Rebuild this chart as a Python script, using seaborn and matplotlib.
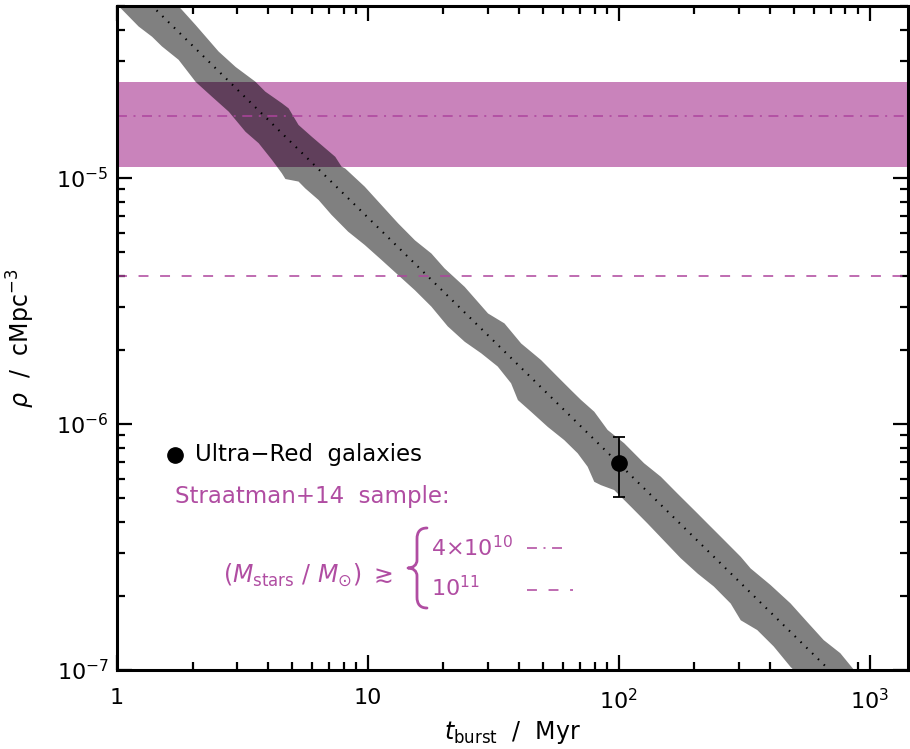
import numpy as np
import pandas as pd
import matplotlib
matplotlib.use("Agg")
import matplotlib.pyplot as plt
import matplotlib.ticker as mticker
from matplotlib.path import Path
from matplotlib.patches import PathPatch
import seaborn as sns

# Number density of burst descendants: rho = rho_norm / t_burst  [cMpc^-3, t in Myr]
rho_norm = 6.9e-5
t_model = [0.8, 2000.0]

# Scatter envelope around the relation (offsets in dex at the given t_burst)
upper_t = [0.8, 1.3, 1.79, 2.06, 2.54, 2.97, 3.56, 3.90, 4.54, 4.83, 5.29, 5.98,
           7.41, 7.85, 8.12, 9.71, 11.3, 13.2, 15.4, 17.9, 20.2, 24.3, 30.1, 35.0,
           40.8, 44.7, 49.0, 57.1, 64.4, 70.6, 79.8, 90.2, 105, 126, 147, 171,
           206, 225, 254, 306, 335, 402, 483, 563, 655, 763, 862, 1000]
upper_dex = [0.10, 0.10, 0.104, 0.096, 0.080, 0.085, 0.104, 0.103, 0.122, 0.128, 0.100, 0.105,
             0.117, 0.102, 0.109, 0.113, 0.105, 0.097, 0.095, 0.107, 0.099, 0.104, 0.089, 0.114,
             0.099, 0.105, 0.111, 0.109, 0.108, 0.108, 0.113, 0.092, 0.104, 0.102, 0.114, 0.112,
             0.111, 0.110, 0.109, 0.107, 0.099, 0.111, 0.116, 0.107, 0.099, 0.112, 0.099, 0.10]
lower_t = [0.8, 1.03, 1.22, 1.38, 1.51, 1.76, 2.06, 2.39, 2.79, 3.25, 3.67, 4.15,
           4.54, 4.69, 5.29, 5.63, 6.36, 7.16, 8.34, 9.71, 11.3, 13.2, 15.4, 17.9,
           20.8, 24.3, 28.3, 32.9, 37.2, 39.6, 44.7, 52.1, 60.6, 68.5, 75.1, 79.8,
           84.8, 95.8, 112, 130, 176, 206, 239, 279, 306, 356, 414, 483, 630]
lower_dex = [-0.13, -0.134, -0.137, -0.125, -0.125, -0.113, -0.135, -0.130, -0.124, -0.139, -0.133, -0.148,
             -0.163, -0.172, -0.130, -0.131, -0.125, -0.134, -0.136, -0.124, -0.118, -0.113, -0.108, -0.109,
             -0.124, -0.119, -0.100, -0.088, -0.103, -0.144, -0.139, -0.134, -0.122, -0.122, -0.137, -0.172,
             -0.159, -0.126, -0.127, -0.129, -0.138, -0.133, -0.121, -0.123, -0.151, -0.125, -0.126, -0.142, -0.14]

# Straatman+14 number densities
straatman_lo = 1.11e-5
straatman_hi = 2.45e-5
straatman_4e10 = 1.79e-5
straatman_1e11 = 4.0e-6

# Ultra-red galaxies
urg_t = [100.0]
urg_rho = [6.93e-7]
urg_err_lo = [1.88e-7]
urg_err_hi = [1.93e-7]

x_ticks = [1, 10, 100, 1000]
x_ticklabels = ["1", "10", r"$10^2$", r"$10^3$"]
y_ticks = [1e-7, 1e-6, 1e-5]
y_ticklabels = [r"$10^{-7}$", r"$10^{-6}$", r"$10^{-5}$"]

GREY = "#808080"
PINK = "#C983BB"
OVERLAP = "#603F5B"
MAGENTA = "#AD449D"
TEXT_MAG = "#B04DA2"

sns.set_theme(style="ticks")
plt.rcParams["font.family"] = ["DejaVu Sans"]
plt.rcParams["mathtext.fontset"] = "dejavusans"
plt.rcParams["text.color"] = "black"
plt.rcParams["axes.labelcolor"] = "black"

W, H = 910, 749
fig = plt.figure(figsize=(W / 100, H / 100), dpi=100)
AX_L, AX_R, AX_T, AX_B = 117, 908, 6, 670
ax = fig.add_axes([AX_L / W, (H - AX_B) / H, (AX_R - AX_L) / W, (AX_B - AX_T) / H])
ax.set_xscale("log")
ax.set_yscale("log")
ax.set_xlim(1, 1420)
ax.set_ylim(1e-7, 5e-5)


def envelope(ts, dex):
    ts = np.asarray(ts, dtype=float)
    return ts, rho_norm / ts * 10 ** np.asarray(dex)


ut, ur = envelope(upper_t, upper_dex)
lt, lr = envelope(lower_t, lower_dex)
poly_t = np.concatenate([ut, lt[::-1]])
poly_r = np.concatenate([ur, lr[::-1]])

ax.fill(poly_t, poly_r, color=GREY, lw=0, zorder=1)
span = ax.axhspan(straatman_lo, straatman_hi, color=PINK, lw=0, zorder=1.5)
overlap, = ax.fill(poly_t, poly_r, color=OVERLAP, lw=0, zorder=1.6)
overlap.set_clip_path(span)

model_df = pd.DataFrame({"t": t_model, "rho": [rho_norm / t for t in t_model]})
sns.lineplot(data=model_df, x="t", y="rho", ax=ax, color="black", lw=1.5,
             linestyle=(0, (0.7, 3.2)), zorder=3)

ax.axhline(straatman_4e10, color=MAGENTA, lw=1.1, dashes=(6.5, 4.3, 1.3, 4.3), zorder=2)
ax.axhline(straatman_1e11, color=MAGENTA, lw=1.1, dashes=(6.5, 7.6), zorder=2)

ax.errorbar(urg_t, urg_rho, yerr=[urg_err_lo, urg_err_hi], fmt="o", color="black",
            ms=11, capsize=4.5, elinewidth=1.3, capthick=1.3, zorder=5)

# axes styling
ax.xaxis.set_major_locator(mticker.FixedLocator(x_ticks))
ax.xaxis.set_major_formatter(mticker.FixedFormatter(x_ticklabels))
ax.yaxis.set_major_locator(mticker.FixedLocator(y_ticks))
ax.yaxis.set_major_formatter(mticker.FixedFormatter(y_ticklabels))
ax.xaxis.set_minor_locator(mticker.LogLocator(base=10, subs=np.arange(2, 10), numticks=20))
ax.yaxis.set_minor_locator(mticker.LogLocator(base=10, subs=np.arange(2, 10), numticks=20))
ax.xaxis.set_minor_formatter(mticker.NullFormatter())
ax.yaxis.set_minor_formatter(mticker.NullFormatter())
ax.tick_params(which="both", direction="in", top=True, right=True, width=1.6, colors="black")
ax.tick_params(which="major", length=11, labelsize=16)
ax.tick_params(which="minor", length=5.5)
ax.tick_params(axis="x", pad=13)
ax.tick_params(axis="y", pad=6)
for s in ax.spines.values():
    s.set_linewidth(2.2)
    s.set_color("black")

ax.set_xlabel(r"$t_{\rm burst}$  /  Myr", fontsize=17, labelpad=4, color="black")
ax.set_ylabel(r"$\rho$  /  cMpc$^{-3}$", fontsize=17, labelpad=14, color="black")


def key_xy(px, py):
    """Pixel position inside the axes box -> axes fraction."""
    return (px - AX_L) / (AX_R - AX_L), (AX_B - py) / (AX_B - AX_T)


# key
ax.plot(*key_xy(175, 455), "o", color="black", ms=11, transform=ax.transAxes, clip_on=False)
ax.text(*key_xy(195, 455), "Ultra\u2212Red  galaxies", transform=ax.transAxes, fontsize=16.5,
        va="center", ha="left", color="black")
ax.text(*key_xy(175, 497), "Straatman+14  sample:", transform=ax.transAxes, fontsize=16.5,
        va="center", ha="left", color=TEXT_MAG)
ax.text(*key_xy(223, 575), r"$(M_{\rm stars}\ /\ M_{\odot})\ \gtrsim$", transform=ax.transAxes,
        fontsize=17, va="center", ha="left", color=TEXT_MAG)

# curly brace grouping the two mass thresholds
brace_px = [(427, 528), (420, 528), (417, 532), (417, 539),
            (417, 560),
            (417, 565), (413, 568), (408, 568),
            (413, 568), (417, 571), (417, 576),
            (417, 597),
            (417, 604), (420, 608), (427, 608)]
brace_codes = [Path.MOVETO, Path.CURVE4, Path.CURVE4, Path.CURVE4,
               Path.LINETO,
               Path.CURVE4, Path.CURVE4, Path.CURVE4,
               Path.CURVE4, Path.CURVE4, Path.CURVE4,
               Path.LINETO,
               Path.CURVE4, Path.CURVE4, Path.CURVE4]
brace = Path([key_xy(*p) for p in brace_px], brace_codes)
ax.add_patch(PathPatch(brace, fill=False, edgecolor=TEXT_MAG, lw=2.0,
                       transform=ax.transAxes, capstyle="round", joinstyle="round"))

ax.text(*key_xy(431, 548), r"4×10$^{10}$", transform=ax.transAxes, fontsize=16,
        va="center", ha="left", color=TEXT_MAG)
ax.text(*key_xy(431, 588), r"10$^{11}$", transform=ax.transAxes, fontsize=16,
        va="center", ha="left", color=TEXT_MAG)
x0, y0 = key_xy(527, 548)
x1, _ = key_xy(568, 548)
ax.plot([x0, x1], [y0, y0], color=MAGENTA, lw=1.1, dashes=(6.5, 4.3, 1.3, 4.3),
        transform=ax.transAxes)
x0, y0 = key_xy(527, 590)
x1, _ = key_xy(573, 590)
ax.plot([x0, x1], [y0, y0], color=MAGENTA, lw=1.1, dashes=(6.5, 7.6),
        transform=ax.transAxes)

fig.savefig("out.png", dpi=100)
